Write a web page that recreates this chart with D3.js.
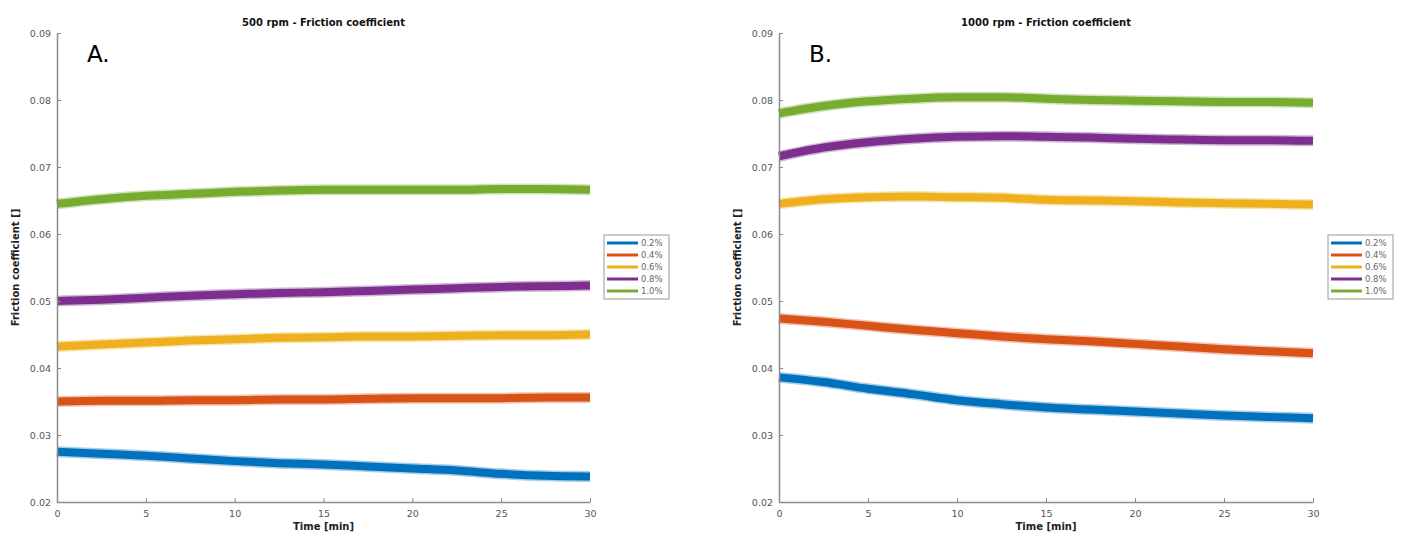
<!DOCTYPE html>
<html>
<head>
<meta charset="utf-8">
<script src="https://cdn.jsdelivr.net/npm/d3@7"></script>
<style>
  body { margin: 0; background: #fff; }
  svg { display: block; }
  text { font-family: "DejaVu Sans", sans-serif; }
</style>
</head>
<body>
<svg id="chart" width="1407" height="545"></svg>
<script>
// ---- data ----
const times = [0, 2.5, 5, 7.5, 10, 12.5, 15, 17.5, 20, 22.5, 25, 27.5, 30];
const seriesNames = ["0.2%", "0.4%", "0.6%", "0.8%", "1.0%"];
const colors = ["#0072BD", "#D95319", "#EDB120", "#7E2F8E", "#77AC30"];
const xTicks = [0, 5, 10, 15, 20, 25, 30];
const yTicks = [0.02, 0.03, 0.04, 0.05, 0.06, 0.07, 0.08, 0.09];

// Panel A: 500 rpm
const a_02 = [0.0275, 0.0272, 0.0269, 0.0265, 0.0261, 0.0258, 0.0256, 0.0253, 0.0250, 0.0247, 0.0242, 0.0239, 0.0238];
const a_04 = [0.0350, 0.0351, 0.0351, 0.0352, 0.0352, 0.0353, 0.0353, 0.0354, 0.0355, 0.0355, 0.0355, 0.0356, 0.0356];
const a_06 = [0.0432, 0.0435, 0.0438, 0.0441, 0.0443, 0.0445, 0.0446, 0.0447, 0.0447, 0.0448, 0.0449, 0.0449, 0.0450];
const a_08 = [0.0500, 0.0502, 0.0505, 0.0508, 0.0510, 0.0512, 0.0513, 0.0515, 0.0517, 0.0519, 0.0521, 0.0522, 0.0523];
const a_10 = [0.0645, 0.0652, 0.0657, 0.0660, 0.0663, 0.0665, 0.0666, 0.0666, 0.0666, 0.0666, 0.0667, 0.0667, 0.0666];

// Panel B: 1000 rpm
const b_02 = [0.0386, 0.0379, 0.0369, 0.0361, 0.0352, 0.0346, 0.0341, 0.0338, 0.0335, 0.0332, 0.0329, 0.0327, 0.0325];
const b_04 = [0.0474, 0.0469, 0.0463, 0.0457, 0.0452, 0.0447, 0.0443, 0.0440, 0.0436, 0.0432, 0.0428, 0.0425, 0.0422];
const b_06 = [0.0645, 0.0652, 0.0655, 0.0656, 0.0655, 0.0654, 0.0651, 0.0650, 0.0649, 0.0647, 0.0646, 0.0645, 0.0644];
const b_08 = [0.0716, 0.0729, 0.0737, 0.0742, 0.0745, 0.0746, 0.0745, 0.0744, 0.0742, 0.0741, 0.0740, 0.0740, 0.0739];
const b_10 = [0.0780, 0.0791, 0.0798, 0.0802, 0.0804, 0.0804, 0.0802, 0.0800, 0.0799, 0.0798, 0.0797, 0.0797, 0.0796];

const panels = [
  { title: "500 rpm - Friction coefficient", letter: "A.", left: 57, right: 590, series: [a_02, a_04, a_06, a_08, a_10], legendX: 604 },
  { title: "1000 rpm - Friction coefficient", letter: "B.", left: 779, right: 1313, series: [b_02, b_04, b_06, b_08, b_10], legendX: 1328 }
];

const svg = d3.select("#chart");
const plotTop = 33, plotBottom = 502;

panels.forEach(p => {
  const x = d3.scaleLinear().domain([0, 30]).range([p.left, p.right]);
  const y = d3.scaleLinear().domain([0.02, 0.09]).range([plotBottom, plotTop]);
  const g = svg.append("g");

  // lines (a soft halo imitates the noisy band edge, then the solid core)
  const line = d3.line().x((d, i) => x(times[i])).y(d => y(d)).curve(d3.curveMonotoneX);
  p.series.forEach((s, k) => {
    g.append("path").datum(s)
      .attr("d", line)
      .attr("fill", "none")
      .attr("stroke", colors[k])
      .attr("stroke-opacity", 0.35)
      .attr("stroke-width", 11);
    g.append("path").datum(s)
      .attr("d", line)
      .attr("fill", "none")
      .attr("stroke", colors[k])
      .attr("stroke-width", 8);
  });

  // axes
  const xAxis = d3.axisBottom(x).tickValues(xTicks).tickSizeInner(-4).tickSizeOuter(0).tickPadding(8);
  const yAxis = d3.axisLeft(y).tickValues(yTicks).tickSizeInner(-4).tickSizeOuter(0).tickPadding(6)
    .tickFormat(d3.format(".2f"));
  const gx = g.append("g").attr("transform", `translate(0,${plotBottom})`).call(xAxis);
  const gy = g.append("g").attr("transform", `translate(${p.left},0)`).call(yAxis);
  [gx, gy].forEach(ax => {
    ax.select(".domain").attr("stroke", "#8c8c8c").attr("stroke-width", 1.5);
    ax.selectAll(".tick line").attr("stroke", "#8c8c8c").attr("stroke-width", 1);
    ax.selectAll(".tick text").attr("fill", "#555").attr("font-size", 9.5)
      .attr("font-family", "DejaVu Sans, sans-serif");
  });

  // title
  g.append("text").attr("x", (p.left + p.right) / 2).attr("y", 26)
    .attr("text-anchor", "middle").attr("font-size", 10).attr("font-weight", "bold")
    .attr("fill", "#111").text(p.title);

  // x label
  g.append("text").attr("x", (p.left + p.right) / 2).attr("y", 530)
    .attr("text-anchor", "middle").attr("font-size", 10).attr("font-weight", "bold")
    .attr("fill", "#222").text("Time [min]");

  // y label
  g.append("text").attr("transform", `translate(${p.left - 38},${(plotTop + plotBottom) / 2}) rotate(-90)`)
    .attr("text-anchor", "middle").attr("font-size", 10).attr("font-weight", "bold")
    .attr("fill", "#222").text("Friction coefficient []");

  // panel letter
  g.append("text").attr("x", p.left + 30).attr("y", 62)
    .attr("font-size", 23).attr("font-family", "Open Sans, Liberation Sans, sans-serif")
    .attr("fill", "#000").text(p.letter);

  // legend
  const lg = g.append("g").attr("transform", `translate(${p.legendX},235)`);
  lg.append("rect").attr("width", 65).attr("height", 64)
    .attr("fill", "#fff").attr("stroke", "#999").attr("stroke-width", 1);
  seriesNames.forEach((n, k) => {
    const yy = 8 + k * 12;
    lg.append("line").attr("x1", 3).attr("x2", 34).attr("y1", yy).attr("y2", yy)
      .attr("stroke", colors[k]).attr("stroke-width", 3);
    lg.append("text").attr("x", 37).attr("y", yy + 3).attr("font-size", 8.5)
      .attr("fill", "#666").text(n);
  });
});
</script>
</body>
</html>
